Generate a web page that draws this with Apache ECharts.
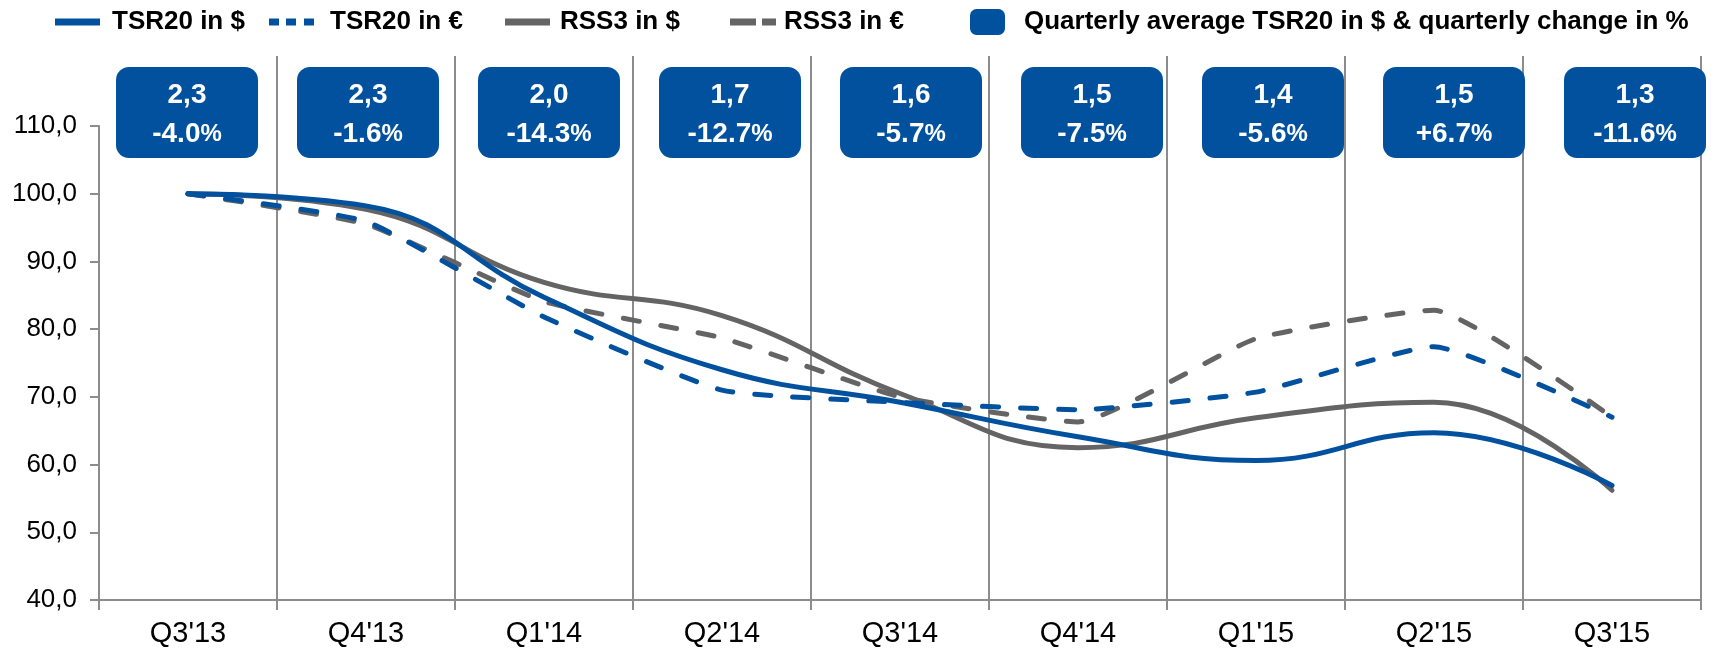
<!DOCTYPE html>
<html>
<head>
<meta charset="utf-8">
<script src="https://cdn.jsdelivr.net/npm/echarts@6/dist/echarts.min.js"></script>
<style>
  html, body { margin: 0; padding: 0; background: #ffffff; }
  #chart { width: 1720px; height: 653px; }
</style>
</head>
<body>
<div id="chart"></div>
<script>
// Quarters on the category axis
const quarters = ["Q3'13", "Q4'13", "Q1'14", "Q2'14", "Q3'14", "Q4'14", "Q1'15", "Q2'15", "Q3'15"];

// Indexed series (Q3'13 = 100)
const tsr20Usd = [100, 98.2, 84.7, 74.0, 69.2, 64.1, 60.6, 64.7, 56.9];
const tsr20Eur = [100, 95.9, 81.8, 71.0, 69.2, 68.1, 70.7, 77.4, 67.0];
const rss3Usd  = [100, 97.7, 86.9, 82.0, 70.5, 62.5, 66.9, 69.2, 56.2];
const rss3Eur  = [100, 95.5, 84.1, 78.7, 70.0, 66.3, 78.6, 82.8, 67.0];

// Quarterly average TSR20 in $ and change vs. previous quarter in %
const quarterlyAvgTsr20 = [2.3, 2.3, 2.0, 1.7, 1.6, 1.5, 1.4, 1.5, 1.3];
const quarterlyChangePct = [-4.0, -1.6, -14.3, -12.7, -5.7, -7.5, -5.6, 6.7, -11.6];

// Value axis range
const yMin = 40, yMax = 110, yStep = 10;

const NAME_TSR_USD = 'TSR20 in $';
const NAME_TSR_EUR = 'TSR20 in €';
const NAME_RSS_USD = 'RSS3 in $';
const NAME_RSS_EUR = 'RSS3 in €';
const NAME_AVG = 'Quarterly average TSR20 in $ & quarterly change in %';

const BLUE = '#02519F';
const GREY = '#646464';
const RULE = '#8c8c8c';
const FONT = '"Liberation Sans", Arial, Helvetica, sans-serif';

const fmtComma = v => v.toFixed(1).replace('.', ',');
const fmtChange = v => (v > 0 ? '+' : '') + v.toFixed(1);

const chart = echarts.init(document.getElementById('chart'), null, { renderer: 'canvas' });

const legendText = pad => ({
  fontFamily: FONT, fontSize: 26, fontWeight: 'bold', color: '#000',
  lineHeight: 28, padding: [0, 0, 0, pad]
});

function legendBlock(left, name, icon, w, h, pad) {
  return {
    left: left, top: 8, padding: 0, orient: 'horizontal', selectedMode: false,
    itemWidth: w, itemHeight: h,
    data: [{ name: name, icon: icon }],
    textStyle: legendText(pad)
  };
}

const lineSeries = (name, data, color, dashed) => ({
  name: name,
  type: 'line',
  xAxisIndex: 0, yAxisIndex: 0,
  data: data,
  smooth: dashed ? 0.15 : 0.45,
  showSymbol: false,
  symbol: 'none',
  itemStyle: { color: color },
  lineStyle: {
    color: color, width: 5,
    type: dashed ? [16, 22] : 'solid',
    cap: 'round', join: 'round'
  },
  emphasis: { disabled: true },
  z: 3
});

const boxData = quarters.map((q, i) => [i, quarterlyAvgTsr20[i], quarterlyChangePct[i]]);

const option = {
  animation: false,
  backgroundColor: '#ffffff',
  textStyle: { fontFamily: FONT },
  legend: [
    legendBlock(55, NAME_TSR_USD, 'path://M0,0h45v7h-45z', 45, 7, 7),
    legendBlock(269, NAME_TSR_EUR, 'path://M0,0h10v7h-10z M17,0h10v7h-10z M35,0h10v7h-10z', 45, 7, 11),
    legendBlock(505, NAME_RSS_USD, 'path://M0,0h45v7h-45z', 45, 7, 5),
    legendBlock(730, NAME_RSS_EUR, 'path://M0,0h26v7h-26z M32,0h14v7h-14z', 46, 7, 3),
    legendBlock(970, NAME_AVG, 'roundRect', 35, 26, 14)
  ],
  grid: [
    // plotting area for the index lines
    { left: 99, right: 19, top: 126, bottom: 53, containLabel: false },
    // quarter separators reaching up behind the boxes
    { left: 277, right: 19, top: 56, bottom: 53, containLabel: false },
    // strip holding the quarterly boxes
    { left: 187, right: 85, top: 67, height: 91, containLabel: false }
  ],
  xAxis: [
    {
      gridIndex: 0, type: 'category', data: quarters, boundaryGap: true,
      axisLine: { show: true, lineStyle: { color: RULE, width: 2 } },
      axisTick: { show: true, length: 10, alignWithLabel: false, lineStyle: { color: RULE, width: 2 } },
      axisLabel: { color: '#000', fontSize: 29, fontFamily: FONT, margin: 19 },
      splitLine: { show: false }
    },
    {
      gridIndex: 1, type: 'category', data: quarters.slice(1), boundaryGap: true,
      axisLine: { show: false }, axisTick: { show: false }, axisLabel: { show: false },
      splitLine: { show: true, interval: 0, lineStyle: { color: RULE, width: 2 } }
    },
    {
      gridIndex: 2, type: 'category', data: quarters, boundaryGap: false, show: false
    }
  ],
  yAxis: [
    {
      gridIndex: 0, type: 'value', min: yMin, max: yMax, interval: yStep,
      axisLine: { show: true, lineStyle: { color: RULE, width: 2 } },
      axisTick: { show: true, length: 9, lineStyle: { color: RULE, width: 2 } },
      axisLabel: { color: '#000', fontSize: 26, fontFamily: FONT, margin: 22, formatter: v => fmtComma(v) },
      splitLine: { show: false }
    },
    { gridIndex: 1, type: 'value', min: 0, max: 1, show: false, splitLine: { show: false } },
    { gridIndex: 2, type: 'value', min: 0, max: 1, show: false, splitLine: { show: false } }
  ],
  series: [
    lineSeries(NAME_RSS_USD, rss3Usd, GREY, false),
    lineSeries(NAME_RSS_EUR, rss3Eur, GREY, true),
    lineSeries(NAME_TSR_EUR, tsr20Eur, BLUE, true),
    lineSeries(NAME_TSR_USD, tsr20Usd, BLUE, false),
    {
      name: NAME_AVG,
      type: 'custom',
      xAxisIndex: 2, yAxisIndex: 2,
      data: boxData,
      encode: { x: 0 },
      itemStyle: { color: BLUE },
      z: 5,
      renderItem: function (params, api) {
        const i = api.value(0);
        const top = api.coord([i, 1]);
        const bottom = api.coord([i, 0]);
        const w = 142;
        const h = bottom[1] - top[1];
        const cx = top[0];
        const avg = api.value(1);
        const chg = api.value(2);
        return {
          type: 'group',
          children: [
            {
              type: 'rect',
              shape: { x: cx - w / 2, y: top[1], width: w, height: h, r: 13 },
              style: { fill: BLUE }
            },
            {
              type: 'text',
              x: cx, y: top[1] + h / 2 + 2,
              style: {
                text: '{a|' + fmtComma(avg) + '}\n{b|' + fmtChange(chg) + '}{c|%}',
                align: 'center', verticalAlign: 'middle',
                fill: '#fff',
                rich: {
                  a: { fontFamily: FONT, fontSize: 28, fontWeight: 'bold', fill: '#fff', color: '#fff', lineHeight: 39 },
                  b: { fontFamily: FONT, fontSize: 28, fontWeight: 'bold', fill: '#fff', color: '#fff', lineHeight: 39 },
                  c: { fontFamily: FONT, fontSize: 24, fontWeight: 'bold', fill: '#fff', color: '#fff', lineHeight: 39 }
                }
              }
            }
          ]
        };
      }
    }
  ]
};

chart.setOption(option);
</script>
</body>
</html>
